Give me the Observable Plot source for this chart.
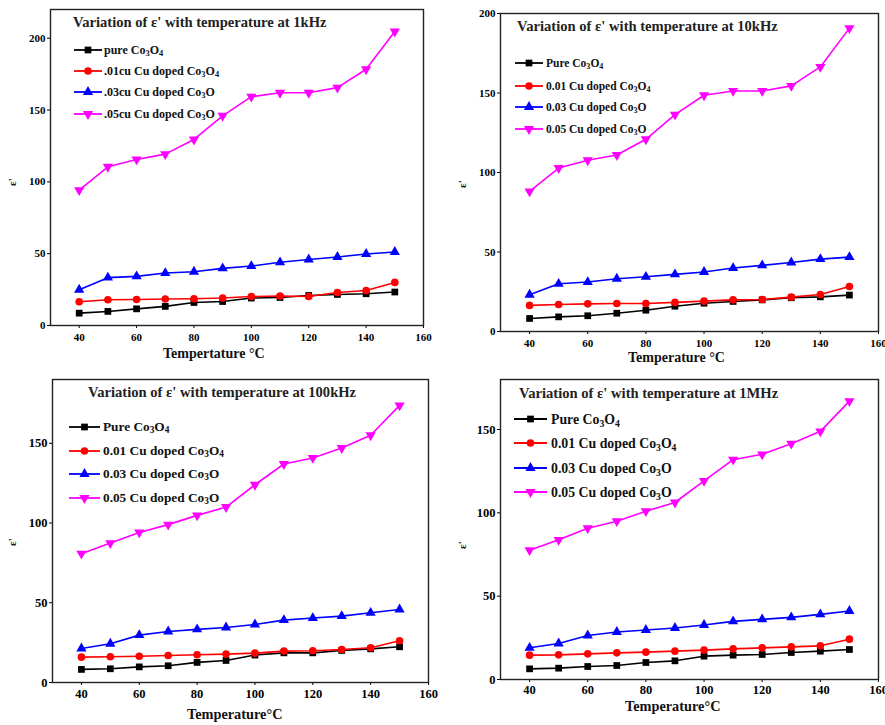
<!DOCTYPE html>
<html>
<head>
<meta charset="utf-8">
<script src="https://cdn.jsdelivr.net/npm/d3@7"></script>
<script src="https://cdn.jsdelivr.net/npm/@observablehq/plot@0.6"></script>
<style>
  html, body { margin: 0; padding: 0; background: #fff; }
  #wrap { position: relative; width: 885px; height: 725px; overflow: hidden; background: #fff; }
  #wrap > div, #wrap > svg { position: absolute; }
  svg { overflow: visible; }
</style>
</head>
<body>
<div id="wrap"></div>
<script>
// ---------- data ----------
const temps = [40, 50, 60, 70, 80, 90, 100, 110, 120, 130, 140, 150];

// 1 kHz
const pure_1k  = [8.6, 9.8, 11.6, 13.3, 16.0, 16.7, 19.1, 19.5, 20.9, 21.6, 22.1, 23.3];
const cu01_1k  = [16.5, 17.9, 18.1, 18.4, 18.6, 19.1, 20.2, 20.5, 20.2, 23.0, 24.4, 30.0];
const cu03_1k  = [24.9, 33.3, 34.2, 36.5, 37.4, 39.8, 41.4, 44.0, 46.0, 47.7, 49.8, 51.2];
const cu05_1k  = [94.2, 110.5, 115.6, 119.3, 129.5, 146.0, 159.3, 162.0, 162.0, 165.6, 178.4, 204.7];

// 10 kHz
const pure_10k = [8.2, 9.2, 9.9, 11.5, 13.4, 15.9, 17.8, 18.9, 19.9, 21.2, 21.8, 22.9];
const cu01_10k = [16.4, 17.0, 17.4, 17.6, 17.6, 18.3, 19.1, 19.9, 20.1, 21.6, 23.3, 28.3];
const cu03_10k = [23.1, 30.0, 31.1, 33.2, 34.4, 35.9, 37.4, 39.9, 41.6, 43.4, 45.5, 46.8];
const cu05_10k = [88.1, 102.8, 107.7, 111.0, 120.9, 136.4, 148.6, 151.3, 151.3, 154.5, 166.4, 190.8];

// 100 kHz
const pure_100k = [8.2, 8.6, 9.8, 10.5, 12.6, 13.8, 17.2, 18.6, 18.6, 20.1, 21.1, 22.4];
const cu01_100k = [15.9, 16.1, 16.5, 16.9, 17.4, 17.8, 18.4, 19.7, 19.9, 20.7, 21.8, 26.2];
const cu03_100k = [21.3, 24.3, 29.7, 32.0, 33.3, 34.5, 36.4, 39.1, 40.4, 41.6, 43.7, 45.8];
const cu05_100k = [80.8, 87.4, 94.1, 99.0, 104.8, 110.0, 124.0, 137.0, 140.8, 147.0, 155.0, 173.8];

// 1 MHz
const pure_1M = [6.4, 6.8, 7.8, 8.4, 10.2, 11.2, 14.0, 14.6, 15.0, 16.2, 17.0, 18.0];
const cu01_1M = [14.6, 14.8, 15.4, 16.0, 16.4, 17.0, 17.6, 18.4, 19.0, 19.6, 20.2, 24.2];
const cu03_1M = [19.0, 21.6, 26.4, 28.5, 29.7, 30.9, 32.7, 34.9, 36.1, 37.3, 39.1, 41.1];
const cu05_1M = [77.6, 83.8, 90.8, 95.0, 101.0, 106.2, 119.2, 131.9, 135.1, 141.5, 148.9, 167.0];

const xTicks = [40, 60, 80, 100, 120, 140, 160];

const titles = [
  "Variation of \u03b5' with temperature at 1kHz",
  "Variation of \u03b5' with temperature at 10kHz",
  "Variation of \u03b5' with temperature at 100kHz",
  "Variation of \u03b5' with temperature at 1MHz"
];
const legend1k = ["pure Co3O4", ".01cu Cu doped Co3O4", ".03cu Cu doped Co3O", ".05cu Cu doped Co3O"];
const legendStd = ["Pure Co3O4", "0.01 Cu doped Co3O4", "0.03 Cu doped Co3O", "0.05 Cu doped Co3O"];
const xLabels = ["Tempertature \u00b0C", "Temperature \u00b0C", "Temperature\u00b0C", "Temperature\u00b0C"];
const yLabel = "\u03b5'";

// ---------- styles ----------
const colors = ["#000000", "#ff0000", "#0000ff", "#ff00ff"];
const triangleDown = {
  draw(context, size) {
    const y = -Math.sqrt(size / (Math.sqrt(3) * 3));
    const s3 = Math.sqrt(3);
    context.moveTo(0, -y * 2);
    context.lineTo(-s3 * y, y);
    context.lineTo(s3 * y, y);
    context.closePath();
  }
};
const symbols = [d3.symbolSquare, d3.symbolCircle, d3.symbolTriangle, triangleDown];
const plotSymbols = ["square", "circle", "triangle", triangleDown];

const FONT = "Liberation Serif, Times New Roman, serif";

const panels = [
  { left: 0,   top: 0,   width: 440, height: 370, mL: 50, mR: 17, mT: 9,  mB: 45, yMax: 220, yTicks: [0, 50, 100, 150, 200],
    series: [pure_1k, cu01_1k, cu03_1k, cu05_1k], legend: legend1k, tickFont: 11, tickPad: 5,
    title: { x: 73, y: 27 }, leg: { rows: [50, 71, 92, 114], x0: 74, x1: 102, tx: 104, fs: 12 },
    xl: { x: 163, y: 358, fs: 14 }, yl: { x: 16, y: 182 } },
  { left: 445, top: 0,   width: 440, height: 370, mL: 55, mR: 7,  mT: 13, mB: 39, yMax: 200, yTicks: [0, 50, 100, 150, 200],
    series: [pure_10k, cu01_10k, cu03_10k, cu05_10k], legend: legendStd, tickFont: 11, tickPad: 5,
    title: { x: 72, y: 31 }, leg: { rows: [63, 86, 107, 129], x0: 70, x1: 98, tx: 101, fs: 11.5 },
    xl: { x: 183, y: 362, fs: 14 }, yl: { x: 21, y: 184 } },
  { left: 0,   top: 370, width: 440, height: 355, mL: 52, mR: 12, mT: 9,  mB: 43, yMax: 190, yTicks: [0, 50, 100, 150],
    series: [pure_100k, cu01_100k, cu03_100k, cu05_100k], legend: legendStd, tickFont: 12.5, tickPad: 4,
    title: { x: 88, y: 27 }, leg: { rows: [57, 81, 104, 128], x0: 69, x1: 100, tx: 103, fs: 13.3 },
    xl: { x: 187, y: 349, fs: 14.3 }, yl: { x: 16, y: 172 } },
  { left: 445, top: 370, width: 440, height: 355, mL: 55, mR: 7,  mT: 9,  mB: 46, yMax: 180, yTicks: [0, 50, 100, 150],
    series: [pure_1M, cu01_1M, cu03_1M, cu05_1M], legend: legendStd, tickFont: 12.5, tickPad: 3,
    title: { x: 74, y: 28 }, leg: { rows: [49, 73, 98, 122], x0: 69, x1: 102, tx: 106, fs: 13.8 },
    xl: { x: 180, y: 341, fs: 14.3 }, yl: { x: 21, y: 175 } }
];

function addLabel(sel, label) {
  // split into normal text and subscripts for "Co3O4" / "Co3O"
  const parts = label.match(/^(.*Co)3(O)(4?)$/);
  if (!parts) { sel.text(label); return; }
  sel.append("tspan").text(parts[1]);
  sel.append("tspan").attr("baseline-shift", "-25%").attr("font-size", "70%").text("3");
  sel.append("tspan").text(parts[2]);
  if (parts[3]) sel.append("tspan").attr("baseline-shift", "-25%").attr("font-size", "70%").text(parts[3]);
}

const wrap = document.getElementById("wrap");

panels.forEach((p, pi) => {
  const marks = [];
  p.series.forEach((arr, si) => {
    const rows = temps.map((t, i) => ({ t, v: arr[i] }));
    marks.push(Plot.line(rows, { x: "t", y: "v", stroke: colors[si], strokeWidth: 1.6 }));
    marks.push(Plot.dot(rows, { x: "t", y: "v", symbol: plotSymbols[si], fill: colors[si], stroke: "none", r: 3.8 }));
  });
  marks.push(Plot.frame({ stroke: "#222", strokeWidth: 1.4 }));

  const chart = Plot.plot({
    width: p.width,
    height: p.height,
    marginLeft: p.mL,
    marginRight: p.mR,
    marginTop: p.mT,
    marginBottom: p.mB,
    style: { fontFamily: FONT, fontSize: p.tickFont + "px", fontWeight: "bold", color: "#000", background: "transparent", overflow: "visible" },
    x: { domain: [30, 160], ticks: xTicks, tickSize: 3, tickPadding: p.tickPad, label: null },
    y: { domain: [0, p.yMax], ticks: p.yTicks, tickSize: 3, tickPadding: 2, label: null },
    marks
  });
  chart.style.left = p.left + "px";
  chart.style.top = p.top + "px";
  wrap.appendChild(chart);

  const svg = d3.select(chart);
  // title
  svg.append("text")
    .attr("x", p.title.x).attr("y", p.title.y)
    .attr("text-anchor", "start")
    .attr("font-family", FONT).attr("font-weight", "bold").attr("font-size", 14.6)
    .attr("fill", "#222")
    .text(titles[pi]);
  // legend
  const g = svg.append("g").attr("text-anchor", "start");
  p.legend.forEach((lab, si) => {
    const y = p.leg.rows[si];
    g.append("line")
      .attr("x1", p.leg.x0).attr("x2", p.leg.x1).attr("y1", y).attr("y2", y)
      .attr("stroke", colors[si]).attr("stroke-width", 1.8);
    g.append("path")
      .attr("transform", `translate(${(p.leg.x0 + p.leg.x1) / 2},${y})`)
      .attr("d", d3.symbol().type(symbols[si]).size(Math.PI * 3.8 * 3.8)())
      .attr("fill", colors[si]);
    const t = g.append("text")
      .attr("x", p.leg.tx).attr("y", y + p.leg.fs * 0.33)
      .attr("text-anchor", "start")
      .attr("font-family", FONT).attr("font-weight", "bold").attr("font-size", p.leg.fs)
      .attr("fill", "#111");
    addLabel(t, lab);
  });
  // x label
  svg.append("text")
    .attr("x", p.xl.x).attr("y", p.xl.y)
    .attr("text-anchor", "start")
    .attr("font-family", FONT).attr("font-weight", "bold").attr("font-size", p.xl.fs)
    .attr("fill", "#111")
    .text(xLabels[pi]);
  // y label
  svg.append("text")
    .attr("transform", `translate(${p.yl.x},${p.yl.y}) rotate(-90)`)
    .attr("text-anchor", "middle")
    .attr("font-family", FONT).attr("font-weight", "bold").attr("font-size", 11)
    .attr("fill", "#111")
    .text(yLabel);
});
</script>
</body>
</html>
